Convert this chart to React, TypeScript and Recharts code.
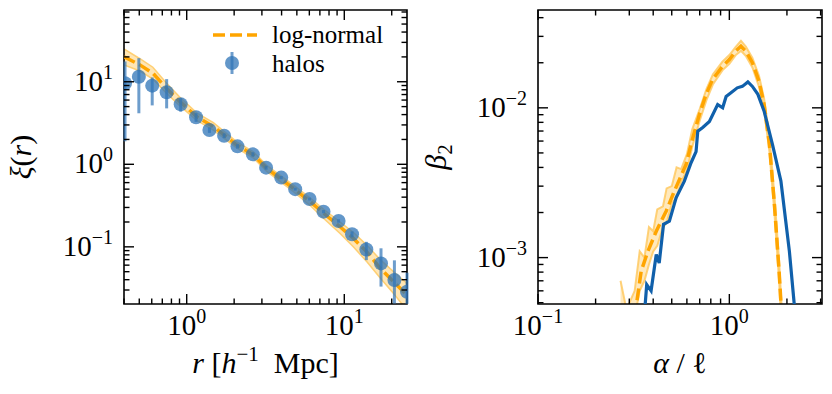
import React from "react";
import { ComposedChart, Line, Area, Scatter, ErrorBar, XAxis, YAxis, ReferenceArea } from "recharts";

const FONT = '"Liberation Serif", "DejaVu Serif", serif';
const ORANGE = "#ffa500";
const BAND = "#ffc75a";
const BLUE = "#1060ab";
const HALO = "#2f74b7";

// left panel: xi(r)
const R_HALO = [0.406, 0.497, 0.604, 0.746, 0.916, 1.146, 1.393, 1.727, 2.1, 2.63, 3.19, 3.98, 4.88, 6.02, 7.38, 9.2, 11.2, 13.8, 17.1, 20.8, 25.0];
const XI_HALO = [9.6, 11.5, 8.97, 7.46, 5.34, 3.71, 2.6, 2.22, 1.65, 1.32, 0.91, 0.69, 0.5, 0.38, 0.267, 0.206, 0.142, 0.093, 0.063, 0.0396, 0.0286];
const XI_ERR_LO = [7.7, 7.35, 3.8, 2.7, 1.0, 0.45, 0.2, 0.15, 0.1, 0.08, 0.05, 0.03, 0.02, 0.015, 0.012, 0.01, 0.012, 0.024, 0.03, 0.019, 0.0082];
const XI_ERR_HI = [8.0, 7.8, 2.3, 3.3, 1.0, 0.45, 0.2, 0.15, 0.1, 0.08, 0.05, 0.03, 0.02, 0.015, 0.012, 0.01, 0.012, 0.022, 0.033, 0.029, 0.02];

const R_LN = [0.4, 0.505, 0.61, 0.746, 0.906, 1.157, 1.477, 2.08, 2.65, 3.22, 4.76, 6.09, 7.4, 9.4, 11.4, 13.9, 16.9, 20.6, 25];
const XI_LN = [20, 16.0, 12.7, 8.3, 5.74, 3.78, 2.86, 1.71, 1.3, 0.895, 0.51, 0.352, 0.255, 0.175, 0.127, 0.087, 0.055, 0.0377, 0.026];
const XI_LN_LO = [16, 13.5, 10.8, 7.2, 5.1, 3.4, 2.6, 1.57, 1.19, 0.82, 0.465, 0.315, 0.22, 0.145, 0.1, 0.066, 0.042, 0.027, 0.017];
const XI_LN_HI = [25, 19, 15, 9.6, 6.5, 4.2, 3.2, 1.87, 1.42, 0.97, 0.56, 0.39, 0.285, 0.2, 0.15, 0.105, 0.07, 0.05, 0.036];

const X1_TICKS = [0.4, 0.5, 0.6, 0.7, 0.8, 0.9, 1, 2, 3, 4, 5, 6, 7, 8, 9, 10, 20];
const Y1_TICKS = [0.03, 0.04, 0.05, 0.06, 0.07, 0.08, 0.09, 0.1, 0.2, 0.3, 0.4, 0.5, 0.6, 0.7, 0.8, 0.9, 1, 2, 3, 4, 5, 6, 7, 8, 9, 10, 20, 30, 40, 50, 60, 70];

// right panel: beta_2(alpha / l)
const ALPHA_HALO = [0.36, 0.37, 0.39, 0.415, 0.43, 0.453, 0.486, 0.527, 0.582, 0.631, 0.67, 0.684, 0.726, 0.787, 0.869, 0.923, 0.962, 1.02, 1.1, 1.17, 1.25, 1.32, 1.41, 1.52, 1.68, 1.86, 2.06, 2.18, 2.25];
const BETA_HALO = [4.2e-4, 6.6e-4, 6.0e-4, 1.05e-3, 9.2e-4, 1.67e-3, 1.75e-3, 2.51e-3, 3.24e-3, 4.3e-3, 5.1e-3, 6.99e-3, 7.4e-3, 8.1e-3, 0.0105, 0.01, 0.0119, 0.0126, 0.0136, 0.0139, 0.0149, 0.0139, 0.0123, 0.0095, 5.7e-3, 3.24e-3, 1.1e-3, 5.0e-4, 3.0e-4];

const ALPHA_LN = [0.32, 0.346, 0.375, 0.415, 0.468, 0.516, 0.594, 0.644, 0.697, 0.756, 0.818, 0.923, 1.0, 1.08, 1.15, 1.22, 1.32, 1.43, 1.52, 1.62, 1.72, 1.82, 1.88];
const BETA_LN = [4e-4, 8.1e-4, 1.1e-3, 1.5e-3, 2.05e-3, 2.78e-3, 4.19e-3, 6.3e-3, 9.0e-3, 0.0123, 0.0155, 0.019, 0.021, 0.0239, 0.0258, 0.0239, 0.02, 0.015, 0.0105, 5.7e-3, 2.27e-3, 8.1e-4, 4e-4];

const ALPHA_BAND = [0.27, 0.29, 0.32, 0.34, 0.36, 0.38, 0.4, 0.42, 0.45, 0.47, 0.5, 0.53, 0.56, 0.6, 0.64, 0.7, 0.76, 0.82, 0.92, 1.0, 1.08, 1.15, 1.22, 1.32, 1.43, 1.52, 1.62, 1.72, 1.82, 1.88];
const BETA_BAND_LO = [4e-4, 3e-4, 4e-4, 6e-4, 7e-4, 9e-4, 1.1e-3, 1.2e-3, 1.6e-3, 1.7e-3, 2.3e-3, 2.5e-3, 3.2e-3, 3.8e-3, 5.5e-3, 8.2e-3, 0.0113, 0.0143, 0.0178, 0.0197, 0.0225, 0.024, 0.0222, 0.0186, 0.0138, 0.0096, 0.0051, 0.002, 7e-4, 3e-4];
const BETA_BAND_HI = [7e-4, 4.5e-4, 6e-4, 1.1e-3, 1.0e-3, 1.6e-3, 1.5e-3, 2.1e-3, 2.2e-3, 2.9e-3, 3.0e-3, 4.0e-3, 3.9e-3, 4.9e-3, 7.2e-3, 9.8e-3, 0.0134, 0.0167, 0.0203, 0.0225, 0.0255, 0.028, 0.0256, 0.0215, 0.0163, 0.0115, 0.0064, 0.0026, 9.5e-4, 4.5e-4];

const X2_TICKS = [0.1, 0.2, 0.3, 0.4, 0.5, 0.6, 0.7, 0.8, 0.9, 1, 2, 3];
const Y2_TICKS = [5e-4, 6e-4, 7e-4, 8e-4, 9e-4, 1e-3, 2e-3, 3e-3, 4e-3, 5e-3, 6e-3, 7e-3, 8e-3, 9e-3, 0.01, 0.02, 0.03, 0.04];

const X1_DOMAIN = [0.4, 25];
const Y1_DOMAIN = [0.0203, 74];
const X2_DOMAIN = [0.1, 3.05];
const Y2_DOMAIN = [4.9e-4, 0.045];

const haloData = R_HALO.map((x, i) => ({ x, y: XI_HALO[i], err: [XI_ERR_LO[i], XI_ERR_HI[i]] }));
const lnData = R_LN.map((x, i) => ({ x, y: XI_LN[i], band: [XI_LN_LO[i], XI_LN_HI[i]] }));
const betaHalo = ALPHA_HALO.map((x, i) => ({ x, y: BETA_HALO[i] }));
const betaLn = ALPHA_LN.map((x, i) => ({ x, y: BETA_LN[i] }));
const betaBand = ALPHA_BAND.map((x, i) => ({ x, band: [BETA_BAND_LO[i], BETA_BAND_HI[i]] }));

const isMajor = (v: number) => Math.abs(Math.log10(v) - Math.round(Math.log10(v))) < 1e-6;
const expOf = (v: number) => {
  const e = Math.round(Math.log10(v));
  return e < 0 ? "\u2212" + Math.abs(e) : String(e);
};

function XTick({ x, y, payload, plotH }: any) {
  const v = payload.value;
  const major = isMajor(v);
  const len = major ? 10 : 5.5;
  return (
    <g>
      <line x1={x} x2={x} y1={y} y2={y - len} stroke="#000" strokeWidth={1.4} />
      <line x1={x} x2={x} y1={y - plotH} y2={y - plotH + len} stroke="#000" strokeWidth={1.4} />
      {major && (
        <text x={x} y={y + 31} textAnchor="middle" fontFamily={FONT} fontSize={29} fill="#000">
          10<tspan dy={-12} fontSize={20}>{expOf(v)}</tspan>
        </text>
      )}
    </g>
  );
}

function YTick({ x, y, payload, plotW }: any) {
  const v = payload.value;
  const major = isMajor(v);
  const len = major ? 10 : 5.5;
  return (
    <g>
      <line x1={x} x2={x + len} y1={y} y2={y} stroke="#000" strokeWidth={1.4} />
      <line x1={x + plotW} x2={x + plotW - len} y1={y} y2={y} stroke="#000" strokeWidth={1.4} />
      {major && (
        <text x={x - 11} y={y + 9} textAnchor="end" fontFamily={FONT} fontSize={29} fill="#000">
          10<tspan dy={-12} fontSize={20}>{expOf(v)}</tspan>
        </text>
      )}
    </g>
  );
}

const HaloDot = (p: any) => <circle cx={p.cx} cy={p.cy} r={7} fill={HALO} fillOpacity={0.75} />;

function LeftPanel() {
  return (
    <ComposedChart width={420} height={394} margin={{ top: 10, right: 13, bottom: 0, left: 0 }}>
      <XAxis type="number" dataKey="x" scale="log" domain={X1_DOMAIN} allowDataOverflow ticks={X1_TICKS}
        interval={0} tickSize={0} tickMargin={0} tickLine={false} axisLine={false} height={90}
        tick={(p: any) => <XTick {...p} plotH={294} />} />
      <YAxis type="number" dataKey="y" scale="log" domain={Y1_DOMAIN} allowDataOverflow ticks={Y1_TICKS}
        interval={0} tickSize={0} tickMargin={0} tickLine={false} axisLine={false} width={124}
        tick={(p: any) => <YTick {...p} plotW={283} />} />
      <Area data={lnData} dataKey="band" type="linear" stroke={BAND} strokeOpacity={0.8} strokeWidth={1.5}
        fill={BAND} fillOpacity={0.45} isAnimationActive={false} />
      <Line data={lnData} dataKey="y" type="linear" stroke={ORANGE} strokeWidth={3.5} strokeDasharray="12 5"
        dot={false} isAnimationActive={false} />
      <Scatter data={haloData} dataKey="y" shape={HaloDot} isAnimationActive={false}>
        <ErrorBar dataKey="err" direction="y" width={0} stroke={HALO} strokeOpacity={0.7} strokeWidth={3} />
      </Scatter>
      <ReferenceArea x1={X1_DOMAIN[0]} x2={X1_DOMAIN[1]} y1={Y1_DOMAIN[0]} y2={Y1_DOMAIN[1]}
        fill="none" fillOpacity={0} stroke="#000" strokeWidth={1.6} />
    </ComposedChart>
  );
}

function RightPanel() {
  return (
    <ComposedChart width={412} height={394} margin={{ top: 10, right: 10, bottom: 0, left: 0 }}>
      <XAxis type="number" dataKey="x" scale="log" domain={X2_DOMAIN} allowDataOverflow ticks={X2_TICKS}
        interval={0} tickSize={0} tickMargin={0} tickLine={false} axisLine={false} height={90}
        tick={(p: any) => <XTick {...p} plotH={294} />} />
      <YAxis type="number" dataKey="y" scale="log" domain={Y2_DOMAIN} allowDataOverflow ticks={Y2_TICKS}
        interval={0} tickSize={0} tickMargin={0} tickLine={false} axisLine={false} width={118}
        tick={(p: any) => <YTick {...p} plotW={284} />} />
      <Area data={betaBand} dataKey="band" type="linear" stroke={BAND} strokeOpacity={0.8} strokeWidth={2}
        fill={BAND} fillOpacity={0.4} isAnimationActive={false} />
      <Line data={betaLn} dataKey="y" type="linear" stroke={ORANGE} strokeWidth={3.5} strokeDasharray="12 5"
        dot={false} isAnimationActive={false} />
      <Line data={betaHalo} dataKey="y" type="linear" stroke={BLUE} strokeWidth={3.2}
        dot={false} isAnimationActive={false} />
      <ReferenceArea x1={X2_DOMAIN[0]} x2={X2_DOMAIN[1]} y1={Y2_DOMAIN[0]} y2={Y2_DOMAIN[1]}
        fill="none" fillOpacity={0} stroke="#000" strokeWidth={1.6} />
    </ComposedChart>
  );
}

export default function App() {
  const txt = { fontFamily: FONT, fill: "#000", whiteSpace: "pre" as const };
  return (
    <div style={{ position: "absolute", left: 0, top: 0, width: 832, height: 394, background: "#fff" }}>
      <div style={{ position: "absolute", left: 0, top: 0 }}><LeftPanel /></div>
      <div style={{ position: "absolute", left: 420, top: 0 }}><RightPanel /></div>
      <svg width={832} height={394} style={{ position: "absolute", left: 0, top: 0, pointerEvents: "none" }}>
        {/* legend */}
        <line x1={213} x2={257} y1={35} y2={35} stroke={ORANGE} strokeWidth={3.5} strokeDasharray="12 5" />
        <text x={272} y={43} fontSize={25} style={txt}>log-normal</text>
        <line x1={232} x2={232} y1={52} y2={74} stroke={HALO} strokeOpacity={0.7} strokeWidth={3} />
        <circle cx={232} cy={63} r={7} fill={HALO} fillOpacity={0.75} />
        <text x={272} y={72} fontSize={25} style={txt}>halos</text>
        {/* axis titles */}
        <text x={265.5} y={373} textAnchor="middle" fontSize={30} style={txt}>
          <tspan fontStyle="italic">r</tspan> [<tspan fontStyle="italic">h</tspan>
          <tspan dy={-12} fontSize={21}>{"\u22121"}</tspan>
          <tspan dy={12}>  Mpc]</tspan>
        </text>
        <text x={680} y={373} textAnchor="middle" fontSize={30} style={txt}>
          <tspan fontStyle="italic">{"\u03b1"}</tspan> / {"\u2113"}
        </text>
        <text transform="translate(31,157) rotate(-90)" textAnchor="middle" fontSize={30} style={txt}>
          <tspan fontStyle="italic">{"\u03be"}</tspan>(<tspan fontStyle="italic">r</tspan>)
        </text>
        <text transform="translate(446,157) rotate(-90)" textAnchor="middle" fontSize={30} style={txt}>
          <tspan fontStyle="italic">{"\u03b2"}</tspan>
          <tspan dy={6} fontSize={21}>2</tspan>
        </text>
      </svg>
    </div>
  );
}
